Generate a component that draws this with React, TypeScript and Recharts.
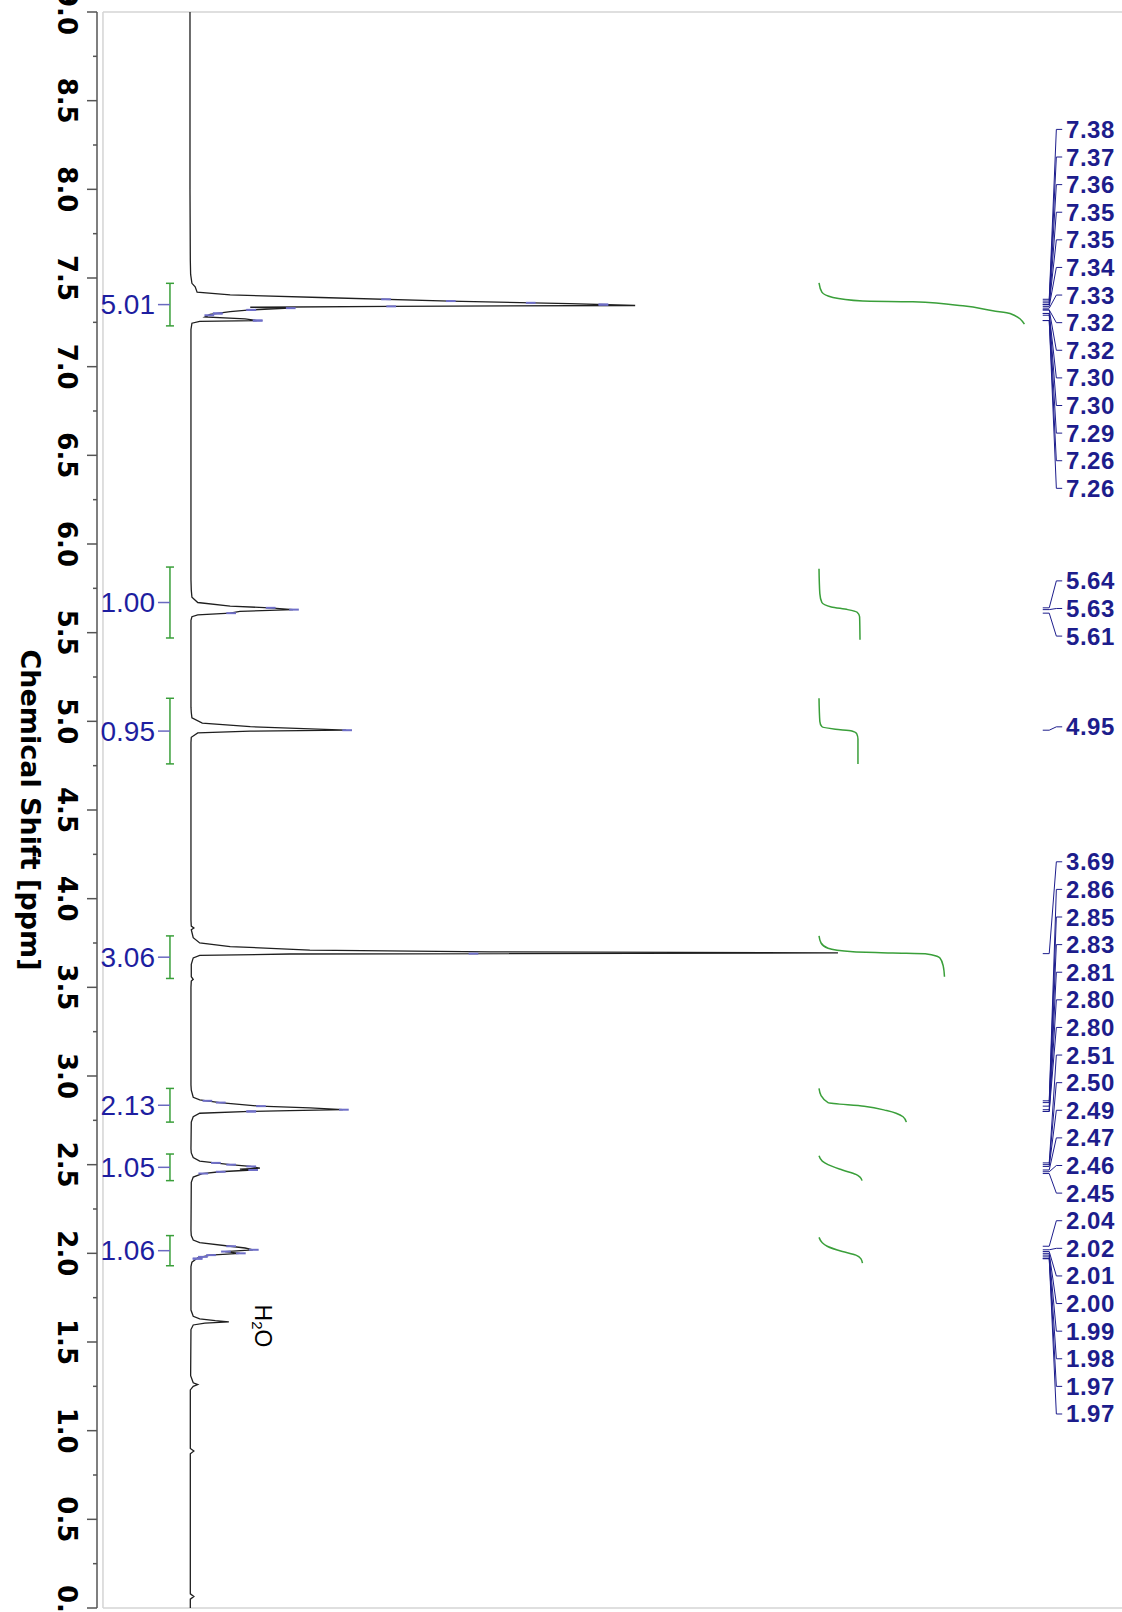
import React from 'react';
import { LineChart, Line, XAxis, YAxis, ReferenceLine, ReferenceDot } from 'recharts';

type Pt = [number, number];

// 1H trace as [ppm, relative intensity], tallest line (3.69) = 100
const traceTop: Pt[] = [[9.0, 0], [8.0, 0], [7.6, 0.05]];
const aromatic: Pt[] = [
  [7.52, 0.1], [7.47, 0.3], [7.45, 0.8], [7.42, 1.1], [7.405, 6.2], [7.39, 20.1], [7.37, 40.1],
  [7.355, 58.6], [7.345, 68.7], [7.34, 30.9], [7.335, 9.3], [7.33, 15.4], [7.32, 9.3], [7.31, 6.2],
  [7.295, 3.1], [7.28, 2.3], [7.27, 8.5], [7.26, 10.3], [7.255, 1.5], [7.245, 0.3], [7.21, 0.15],
];
const vinyl: Pt[] = [
  [5.8, 0.15], [5.74, 0.2], [5.7, 0.3], [5.67, 1.2], [5.65, 6.2], [5.64, 12.3], [5.63, 15.9],
  [5.62, 7.7], [5.61, 6.2], [5.6, 1.2], [5.59, 0.3], [5.57, 0.15],
];
const methine: Pt[] = [
  [5.08, 0.15], [5.05, 0.2], [5.02, 0.3], [4.99, 1.9], [4.97, 9.3], [4.95, 24.1], [4.945, 9.3],
  [4.935, 1.2], [4.91, 0.2], [4.88, 0.15],
];
const methoxy: Pt[] = [
  [3.88, 0.15], [3.845, 0.2], [3.835, 0.6], [3.825, 0.2], [3.78, 0.5], [3.75, 1.5], [3.73, 6.2],
  [3.71, 18.5], [3.7, 46.3], [3.694, 100], [3.688, 15.4], [3.68, 1.5], [3.666, 0.5], [3.63, 0.2],
  [3.56, 0.2], [3.545, 0.5], [3.535, 0.2], [3.5, 0.15],
];
const ch2a: Pt[] = [
  [2.95, 0.15], [2.92, 0.2], [2.88, 0.5], [2.865, 1.5], [2.85, 4.6], [2.83, 10.8], [2.82, 18.5],
  [2.81, 23.6], [2.805, 15.4], [2.8, 9.3], [2.79, 1.5], [2.77, 0.5], [2.74, 0.2],
];
const ch2b: Pt[] = [
  [2.59, 0.15], [2.566, 0.2], [2.54, 0.5], [2.52, 1.5], [2.5, 6.2], [2.49, 9.3], [2.48, 10.8],
  [2.475, 7.7], [2.47, 9.6], [2.46, 4.6], [2.45, 1.9], [2.43, 0.5], [2.4, 0.2],
];
const ch2c: Pt[] = [
  [2.13, 0.15], [2.1, 0.2], [2.075, 0.5], [2.06, 1.5], [2.04, 6.2], [2.03, 8.5], [2.02, 9.7],
  [2.01, 5.4], [2.0, 7.7], [1.99, 3.1], [1.975, 1.2], [1.95, 0.3], [1.925, 0.15],
];
const water: Pt[] = [
  [1.7, 0.15], [1.68, 0.15], [1.645, 0.5], [1.63, 1.5], [1.62, 3.9], [1.613, 6.0], [1.607, 2.3],
  [1.596, 0.5], [1.57, 0.15],
];
const traceLow: Pt[] = [
  [1.31, 0.1], [1.27, 0.5], [1.26, 1.2], [1.25, 0.5], [1.23, 0.05], [0.9, 0.05], [0.885, 0.6],
  [0.87, 0.05], [0.08, 0.05], [0.065, 0.6], [0.05, 0.05], [0.0, 0.05],
];

// integral curves, [ppm, cumulative H]
const intAromatic: Pt[] = [[7.473, 0], [7.42, 0.07], [7.39, 0.34], [7.37, 1.07], [7.366, 2.29], [7.343, 3.51], [7.315, 4.24], [7.3, 4.66], [7.24, 5.01]];
const intVinyl: Pt[] = [[5.86, 0], [5.72, 0.02], [5.67, 0.07], [5.645, 0.3], [5.63, 0.7], [5.615, 0.93], [5.59, 0.99], [5.46, 1.0]];
const intMethine: Pt[] = [[5.13, 0], [5.0, 0.02], [4.97, 0.07], [4.955, 0.4], [4.945, 0.8], [4.93, 0.92], [4.9, 0.95], [4.76, 0.95]];
const intMethoxy: Pt[] = [[3.79, 0], [3.75, 0.05], [3.72, 0.22], [3.7, 0.83], [3.694, 1.8], [3.69, 2.59], [3.675, 2.88], [3.665, 2.95], [3.62, 3.03], [3.56, 3.06]];
const intCh2a: Pt[] = [[2.93, 0], [2.89, 0.05], [2.85, 0.22], [2.83, 1.1], [2.805, 1.65], [2.79, 1.88], [2.77, 2.05], [2.74, 2.13]];
const intCh2b: Pt[] = [[2.55, 0], [2.52, 0.08], [2.5, 0.22], [2.47, 0.57], [2.445, 0.9], [2.43, 1.0], [2.41, 1.05]];
const intCh2c: Pt[] = [[2.09, 0], [2.06, 0.08], [2.04, 0.2], [2.01, 0.57], [1.99, 0.9], [1.97, 1.02], [1.945, 1.06]];

const integralRanges = [
  { value: '5.01', from: 7.47, to: 7.23 },
  { value: '1.00', from: 5.87, to: 5.47 },
  { value: '0.95', from: 5.13, to: 4.76 },
  { value: '3.06', from: 3.79, to: 3.55 },
  { value: '2.13', from: 2.93, to: 2.74 },
  { value: '1.05', from: 2.56, to: 2.41 },
  { value: '1.06', from: 2.10, to: 1.93 },
];

// peak picking labels; first slot of each column is given in ppm
const peaksAromatic = [7.38, 7.37, 7.36, 7.35, 7.35, 7.34, 7.33, 7.32, 7.32, 7.30, 7.30, 7.29, 7.26, 7.26];
const peaksVinyl = [5.64, 5.63, 5.61];
const peaksMethine = [4.95];
const peaksAliphatic = [3.69, 2.86, 2.85, 2.83, 2.81, 2.80, 2.80, 2.51, 2.50, 2.49, 2.47, 2.46, 2.45, 2.04, 2.02, 2.01, 2.00, 1.99, 1.98, 1.97, 1.97];
const labelColumns = [
  { start: 8.338, peaks: peaksAromatic },
  { start: 5.792, peaks: peaksVinyl },
  { start: 4.969, peaks: peaksMethine },
  { start: 4.208, peaks: peaksAliphatic },
];
const LABEL_STEP = 0.1557;

const ppmTicks = [
  0, 0.25, 0.5, 0.75, 1, 1.25, 1.5, 1.75, 2, 2.25, 2.5, 2.75, 3, 3.25, 3.5, 3.75, 4, 4.25, 4.5,
  4.75, 5, 5.25, 5.5, 5.75, 6, 6.25, 6.5, 6.75, 7, 7.25, 7.5, 7.75, 8, 8.25, 8.5, 8.75, 9,
];

const spectrum = [traceTop, aromatic, vinyl, methine, methoxy, ch2a, ch2b, ch2c, water, traceLow]
  .flat()
  .sort((a, b) => b[0] - a[0])
  .map(([ppm, intensity]) => ({ ppm, intensity }));

const integralCurves = [intAromatic, intVinyl, intMethine, intMethoxy, intCh2a, intCh2b, intCh2c].map((c) =>
  c.map(([ppm, h]) => ({ ppm, h }))
);

// trace height at a picked peak, read back from the trace itself
function traceAt(ppm: number) {
  for (let i = 1; i < spectrum.length; i++) {
    const a = spectrum[i - 1];
    const b = spectrum[i];
    if (ppm <= a.ppm && ppm >= b.ppm) {
      const t = a.ppm === b.ppm ? 0 : (a.ppm - ppm) / (a.ppm - b.ppm);
      return a.intensity + t * (b.intensity - a.intensity);
    }
  }
  return 0;
}

const NAVY = '#1d1d8c';
const GREEN = '#3a9f3a';
const FRAME = '#d4d4d4';

function PpmTick({ x, y, payload }: any) {
  const v = payload.value as number;
  const major = Math.abs(v * 2 - Math.round(v * 2)) < 1e-6;
  const tx = x - 30;
  return (
    <g>
      <line x1={x - (major ? 10 : 4)} x2={x} y1={y} y2={y} stroke="#555" strokeWidth={1.5} />
      {major && (
        <text
          x={tx}
          y={y}
          transform={`rotate(90 ${tx} ${y})`}
          textAnchor="middle"
          dominantBaseline="central"
          fontFamily="DejaVu Sans"
          fontWeight="bold"
          fontSize={26}
          fill="#000"
        >
          {v.toFixed(1)}
        </text>
      )}
    </g>
  );
}

function AxisTitle({ viewBox }: any) {
  const tx = viewBox.x + 30;
  const ty = viewBox.y + viewBox.height / 2;
  return (
    <text
      x={tx}
      y={ty}
      transform={`rotate(90 ${tx} ${ty})`}
      textAnchor="middle"
      dominantBaseline="central"
      fontFamily="DejaVu Sans"
      fontWeight="bold"
      fontSize={27}
      fill="#000"
    >
      Chemical Shift [ppm]
    </text>
  );
}

// x positions in intensity units (spectrum axis)
const BRACKET_X = -3.09;
const PEAK_X0 = 131.6;
const PEAK_X1 = 132.6;
const BEND_X = 133.7;
const HOOK_X = 134.6;
const TEXT_X = 135.2;

const allPeaks = labelColumns.flatMap((c) => c.peaks);

export default function App() {
  return (
    <div style={{ position: 'absolute', left: 0, top: 0, width: 1122, height: 1612, background: '#fff' }}>
      <LineChart
        width={1122}
        height={1612}
        layout="vertical"
        data={spectrum}
        margin={{ top: 12, right: 0, bottom: 4, left: 0 }}
      >
        <XAxis type="number" xAxisId={0} domain={[-14.35, 143.83]} allowDataOverflow hide />
        <XAxis type="number" xAxisId="int" domain={[-17.61, 7.39]} allowDataOverflow hide />
        <YAxis
          type="number"
          dataKey="ppm"
          domain={[0, 9]}
          reversed
          allowDataOverflow
          ticks={ppmTicks}
          interval={0}
          width={97}
          tickSize={0}
          tickMargin={0}
          tickLine={false}
          axisLine={{ stroke: '#555', strokeWidth: 1.5 }}
          tick={<PpmTick />}
          label={<AxisTitle />}
        />

        <ReferenceLine segment={[{ x: -13.43, y: 9 }, { x: -13.43, y: 0 }]} stroke={FRAME} strokeWidth={1.5} ifOverflow="visible" />
        <ReferenceLine segment={[{ x: -13.43, y: 9 }, { x: 143.83, y: 9 }]} stroke={FRAME} strokeWidth={1.5} ifOverflow="visible" />
        <ReferenceLine segment={[{ x: -13.43, y: 0 }, { x: 143.83, y: 0 }]} stroke={FRAME} strokeWidth={1.5} ifOverflow="visible" />

        <Line
          dataKey="intensity"
          xAxisId={0}
          type="linear"
          stroke="#1f1f1f"
          strokeWidth={1.3}
          dot={false}
          isAnimationActive={false}
        />

        {allPeaks.map((p, i) => {
          const h = traceAt(p);
          return (
            <ReferenceLine
              key={`pm-${i}`}
              segment={[{ x: h - 0.6, y: p }, { x: h + 0.9, y: p }]}
              stroke="#6f6fc8"
              strokeWidth={2}
              ifOverflow="visible"
            />
          );
        })}

        {integralCurves.map((c, i) => (
          <Line
            key={`int-${i}`}
            data={c}
            dataKey="h"
            xAxisId="int"
            type="monotone"
            stroke={GREEN}
            strokeWidth={1.5}
            dot={false}
            isAnimationActive={false}
          />
        ))}

        {integralRanges.flatMap((r, i) => {
          const mid = (r.from + r.to) / 2;
          return [
            <ReferenceLine key={`bv-${i}`} segment={[{ x: BRACKET_X, y: r.from }, { x: BRACKET_X, y: r.to }]} stroke={GREEN} strokeWidth={1.5} ifOverflow="visible" />,
            <ReferenceLine key={`bt-${i}`} segment={[{ x: BRACKET_X - 0.62, y: r.from }, { x: BRACKET_X + 0.62, y: r.from }]} stroke={GREEN} strokeWidth={1.5} ifOverflow="visible" />,
            <ReferenceLine key={`bb-${i}`} segment={[{ x: BRACKET_X - 0.62, y: r.to }, { x: BRACKET_X + 0.62, y: r.to }]} stroke={GREEN} strokeWidth={1.5} ifOverflow="visible" />,
            <ReferenceDot
              key={`bl-${i}`}
              x={BRACKET_X}
              y={mid}
              r={0}
              ifOverflow="visible"
              shape={(p: any) => (
                <g>
                  <line x1={p.cx - 12} x2={p.cx} y1={p.cy} y2={p.cy} stroke="#6a6ac0" strokeWidth={1.5} />
                  <text x={p.cx - 15} y={p.cy} textAnchor="end" dominantBaseline="central" fontFamily="Liberation Sans" fontSize={28} fill="#1e1ea0">
                    {r.value}
                  </text>
                </g>
              )}
            />,
          ];
        })}

        {labelColumns.flatMap((col, ci) =>
          col.peaks.flatMap((p, i) => {
            const slot = col.start - i * LABEL_STEP;
            return [
              <ReferenceLine key={`pt-${ci}-${i}`} segment={[{ x: PEAK_X0, y: p }, { x: PEAK_X1, y: p }]} stroke={NAVY} strokeWidth={1} ifOverflow="visible" />,
              <ReferenceLine key={`pd-${ci}-${i}`} segment={[{ x: PEAK_X1, y: p }, { x: BEND_X, y: slot }]} stroke={NAVY} strokeWidth={1} ifOverflow="visible" />,
              <ReferenceLine key={`ph-${ci}-${i}`} segment={[{ x: BEND_X, y: slot }, { x: HOOK_X, y: slot }]} stroke={NAVY} strokeWidth={1} ifOverflow="visible" />,
              <ReferenceDot
                key={`pl-${ci}-${i}`}
                x={TEXT_X}
                y={slot}
                r={0}
                ifOverflow="visible"
                shape={(q: any) => (
                  <text x={q.cx} y={q.cy} dominantBaseline="central" fontFamily="Liberation Sans" fontWeight="bold" fontSize={24} letterSpacing={0.5} fill={NAVY}>
                    {p.toFixed(2)}
                  </text>
                )}
              />,
            ];
          })
        )}

        <ReferenceDot
          x={11.3}
          y={1.59}
          r={0}
          ifOverflow="visible"
          shape={(q: any) => (
            <text
              x={q.cx}
              y={q.cy}
              transform={`rotate(90 ${q.cx} ${q.cy})`}
              textAnchor="middle"
              dominantBaseline="central"
              fontFamily="Liberation Sans"
              fontSize={23}
              fill="#000"
            >
              H<tspan fontSize={15} dy={5}>2</tspan><tspan dy={-5}>O</tspan>
            </text>
          )}
        />
      </LineChart>
    </div>
  );
}
